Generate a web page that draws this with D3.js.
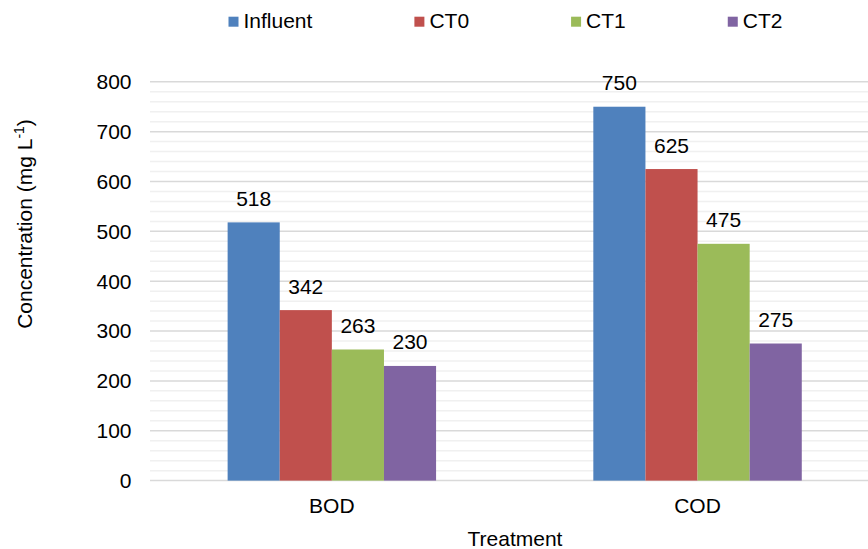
<!DOCTYPE html>
<html><head><meta charset="utf-8">
<script src="https://cdn.jsdelivr.net/npm/d3@7"></script>
<style>body{margin:0;background:#fff}svg{display:block}text{font-family:"Liberation Sans",Arial,sans-serif;fill:#000}</style>
</head><body>
<svg id="c" width="868" height="549"></svg>
<script>
const categories = ["BOD", "COD"];
const seriesNames = ["Influent", "CT0", "CT1", "CT2"];
const influent = [518, 750];
const ct0 = [342, 625];
const ct1 = [263, 475];
const ct2 = [230, 275];
const yTicks = [0, 100, 200, 300, 400, 500, 600, 700, 800];
const colors = ["#4F81BD", "#C0504D", "#9BBB59", "#8064A2"];

const seriesVals = [influent, ct0, ct1, ct2];
const svg = d3.select("#c");
const W = 868, H = 549;
const fs = 21;

const x = d3.scaleBand().domain(categories).range([149, 880.4]).paddingInner(0.43).paddingOuter(0.215);
const xs = d3.scaleBand().domain(seriesNames).range([0, x.bandwidth()]).padding(0);
const y = d3.scaleLinear().domain([0, 800]).range([480.6, 81.8]);

// minor gridlines
const minor = d3.range(0, 801, 20).filter(v => v % 100 !== 0);
svg.append("g").selectAll("line").data(minor).join("line")
  .attr("x1", 150).attr("x2", W).attr("y1", d => y(d)).attr("y2", d => y(d))
  .attr("stroke", "#f0f0f0").attr("stroke-width", 1.5);
// major gridlines
svg.append("g").selectAll("line").data(yTicks).join("line")
  .attr("x1", 150).attr("x2", W).attr("y1", d => y(d)).attr("y2", d => y(d))
  .attr("stroke", "#d9d9d9").attr("stroke-width", 1.5);

// y tick labels
svg.append("g").selectAll("text").data(yTicks).join("text")
  .attr("x", 131.5).attr("y", d => y(d)).attr("dy", "0.35em")
  .attr("text-anchor", "end").attr("font-size", fs).text(d => d);

// bars
const data = [];
categories.forEach((c, i) => seriesNames.forEach((s, j) => data.push({c, s, v: seriesVals[j][i], j})));
const g = svg.append("g");
g.selectAll("rect").data(data).join("rect")
  .attr("x", d => x(d.c) + xs(d.s)).attr("width", xs.bandwidth())
  .attr("y", d => y(d.v)).attr("height", d => y(0) - y(d.v))
  .attr("fill", d => colors[d.j]);
g.selectAll("text").data(data).join("text")
  .attr("x", d => x(d.c) + xs(d.s) + xs.bandwidth() / 2)
  .attr("y", d => y(d.v) - 16.5)
  .attr("text-anchor", "middle").attr("font-size", fs).text(d => d.v);

// x labels
svg.append("g").selectAll("text").data(categories).join("text")
  .attr("x", d => x(d) + x.bandwidth() / 2).attr("y", 512.5)
  .attr("text-anchor", "middle").attr("font-size", fs).text(d => d);

// axis titles
svg.append("text").attr("x", 515).attr("y", 545.5).attr("text-anchor", "middle")
  .attr("font-size", fs).text("Treatment");
const yt = svg.append("text").attr("transform", "translate(32,224) rotate(-90)")
  .attr("text-anchor", "middle").attr("font-size", fs);
yt.append("tspan").text("Concentration (mg L");
yt.append("tspan").attr("font-size", 14).attr("dy", -8).text("-1");
yt.append("tspan").attr("dy", 8).text(")");

// legend
const lg = svg.append("g");
let lx = 228.5;
seriesNames.forEach((s, i) => {
  lg.append("rect").attr("x", lx).attr("y", 16.7).attr("width", 10).attr("height", 10).attr("fill", colors[i]);
  const t = lg.append("text").attr("x", lx + 15).attr("y", 28.3).attr("font-size", fs).text(s);
  const w = t.node().getComputedTextLength();
  lx += 15 + w + 102;
});
</script>
</body></html>
